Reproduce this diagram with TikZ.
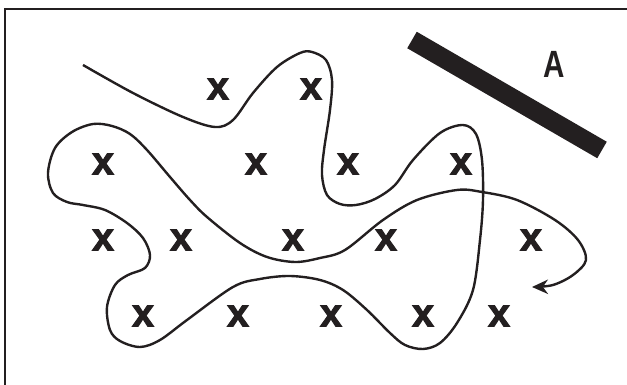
\documentclass[tikz,border=0pt]{standalone}
\usepackage{fontspec}
\usepackage{graphicx}
\setmainfont{Liberation Sans}
\newfontfamily\crossfont[FakeBold=2.5]{Liberation Sans}
\usetikzlibrary{arrows.meta}
\definecolor{ink}{HTML}{231F20}

\begin{document}
\begin{tikzpicture}[x=0.025cm, y=-0.025cm,
  cross/.style={text=ink, inner sep=0pt, font=\crossfont\bfseries\fontsize{28}{28}\selectfont},
  tag/.style={text=ink, inner sep=0pt, font=\bfseries\fontsize{27}{27}\selectfont},
  boxline/.style={ink, line width=1.8pt},
  wall/.style={ink, line width=0.475cm},
  trail/.style={ink, line width=1.7pt, line join=round, -{Stealth[length=4mm, width=3.6mm]}}
]
  \useasboundingbox (0,0) rectangle (627,385);

  % open frame, top and left only
  \draw[boxline] (627,9) -- (5,9) -- (5,385);

  % the wall and its letter
  \draw[wall] (412,40) -- (602,150);
  \node[tag] (A) at (554,64) {\scalebox{0.78}[1]{A}};

  % the x marks, row by row
  \node[cross] (x1) at (218,89) {x};
  \node[cross] (x2) at (311,89) {x};

  \node[cross] (x3) at (103,164) {x};
  \node[cross] (x4) at (256,164) {x};
  \node[cross] (x5) at (348,164) {x};
  \node[cross] (x6) at (461,164) {x};

  \node[cross] (x7) at (103,240) {x};
  \node[cross] (x8) at (181,240) {x};
  \node[cross] (x9) at (293,240) {x};
  \node[cross] (x10) at (386,240) {x};
  \node[cross] (x11) at (531,240) {x};

  \node[cross] (x12) at (143,316) {x};
  \node[cross] (x13) at (238,316) {x};
  \node[cross] (x14) at (331,316) {x};
  \node[cross] (x15) at (423,316) {x};
  \node[cross] (x16) at (499,316) {x};

  % the winding path
  \draw[trail] plot[smooth, tension=0.55] coordinates {
    (83,65) (133,93) (183,117) (215,127) (233,120) (253,93) (277,67) (300,53)
    (312,52) (326,60) (332,80) (330,110) (324,150) (322,175) (327,195) (340,204)
    (356,205) (375,199) (395,185) (413,160) (440,133) (463,125) (476,134) (482,160)
    (483,200) (480,240) (473,290) (457,323) (440,343) (423,349) (405,345) (390,333)
    (367,310) (343,290) (320,280) (290,276) (260,279) (233,287) (187,320) (160,340)
    (140,347) (120,341) (110,330) (107,307) (115,285) (128,275) (145,268) (150,255)
    (143,238) (127,223) (105,210) (83,205) (67,202) (53,193) (48,173) (55,148)
    (72,132) (93,124) (112,126) (130,134) (147,150) (170,177) (190,200) (207,217)
    (240,243) (267,257) (295,262) (320,258) (345,250) (383,220) (417,200) (457,190)
    (482,192) (517,200) (555,220) (578,240) (586,260) (573,275) (553,285) (532,287)};
\end{tikzpicture}
\end{document}
